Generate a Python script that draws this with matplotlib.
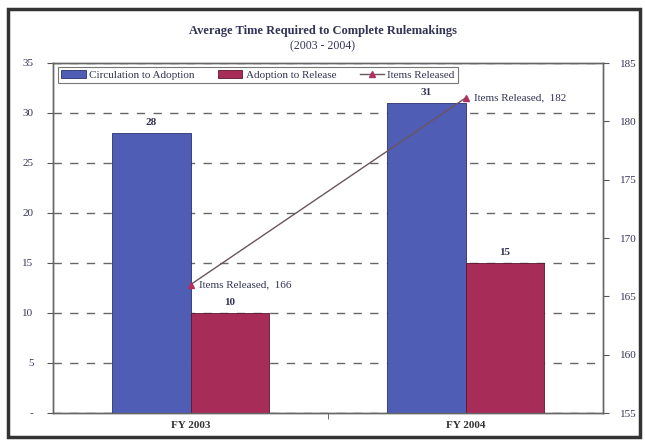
import matplotlib
matplotlib.use("Agg")
import matplotlib.pyplot as plt
import numpy as np
from matplotlib.patches import Rectangle

categories = ["FY 2003", "FY 2004"]
circulation_to_adoption = [28, 31]
adoption_to_release = [10, 15]
items_released = [166, 182]
left_ticks = [0, 5, 10, 15, 20, 25, 30, 35]
left_tick_labels = ["-", "5", "10", "15", "20", "25", "30", "35"]
right_ticks = [155, 160, 165, 170, 175, 180, 185]

plt.rcParams['font.family'] = ['Liberation Serif', 'DejaVu Serif']

fig = plt.figure(figsize=(6.45, 4.41), dpi=100)
ax = fig.add_axes([53/645, 1-413/441, 550/645, 350/441])

x = np.arange(len(categories))
bw = 1/3.5
blue = '#4f5db5'
red = '#a82c58'
b1 = ax.bar(x - bw/2, circulation_to_adoption, bw, color=blue, edgecolor='#2a2f70', lw=0.6,
            label='Circulation to Adoption', zorder=3)
b2 = ax.bar(x + bw/2, adoption_to_release, bw, color=red, edgecolor='#5a1830', lw=0.6,
            label='Adoption to Release', zorder=3)

for rect, v in zip(b1, circulation_to_adoption):
    ax.text(rect.get_x()+rect.get_width()/2, v+0.6, str(v), ha='center', va='bottom',
            fontsize=8, fontweight='bold', color='#333355', zorder=5)
for rect, v in zip(b2, adoption_to_release):
    ax.text(rect.get_x()+rect.get_width()/2, v+0.6, str(v), ha='center', va='bottom',
            fontsize=8, fontweight='bold', color='#333355', zorder=5)

ax.set_xlim(-0.5, 1.5)
ax.set_ylim(0, 35)
ax.set_yticks(left_ticks)
ax.set_yticklabels(left_tick_labels)
ax.set_xticks(x)
ax.set_xticklabels(categories, fontsize=8, fontweight='bold', color='#333333')
ax.set_xticks([0.5], minor=True)
ax.tick_params(axis='x', which='major', length=0, pad=6)
ax.tick_params(axis='x', which='minor', length=4, direction='out', color='#555555')
ax.tick_params(axis='y', labelsize=8, length=4, direction='out', color='#555555',
               labelcolor='#333355', pad=10)
ax.yaxis.grid(True, linestyle=(0, (6, 6)), color='#666666', lw=1.0, zorder=0)
ax.set_axisbelow(True)
for s in ax.spines.values():
    s.set_color('#666666')
    s.set_linewidth(1.0)

ax2 = ax.twinx()
ax2.set_ylim(155, 185)
ax2.set_yticks(right_ticks)
ax2.tick_params(axis='y', labelsize=8, length=4, direction='out', color='#555555',
                labelcolor='#333355', pad=8)
line, = ax2.plot(x, items_released, color='#6a5560', lw=1.0, marker='^', markersize=4,
                 markerfacecolor='#b03060', markeredgecolor='#b03060', label='Items Released',
                 zorder=4)
for xi, v in zip(x, items_released):
    ax2.text(xi + 0.03, v, f"Items Released,  {v}", ha='left', va='center', fontsize=8,
             color='#333355')
for s in ax2.spines.values():
    s.set_color('#666666')
    s.set_linewidth(1.0)

leg = ax.legend(handles=[b1, b2, line], loc='upper left', ncol=3, fontsize=8,
                bbox_to_anchor=(0.005, 0.995), frameon=True, fancybox=False,
                edgecolor='#555555', handlelength=2.2, handletextpad=0.3,
                columnspacing=2.1, borderpad=0.3, borderaxespad=0.2)
leg.get_frame().set_linewidth(0.8)
leg.set_zorder(10)
for t in leg.get_texts():
    t.set_color('#333355')

fig.text(0.5, 1-31/441, "Average Time Required to Complete Rulemakings", ha='center', va='center',
         fontsize=9, fontweight='bold', color='#333355')
fig.text(0.5, 1-46/441, "(2003 - 2004)", ha='center', va='center', fontsize=8.5,
         color='#333355')

fig.patches.append(Rectangle((8/645, 1-437/441), 632/645, 428/441, transform=fig.transFigure,
                             fill=False, edgecolor='#333333', lw=2.5))

fig.savefig("out.png", dpi=100)
